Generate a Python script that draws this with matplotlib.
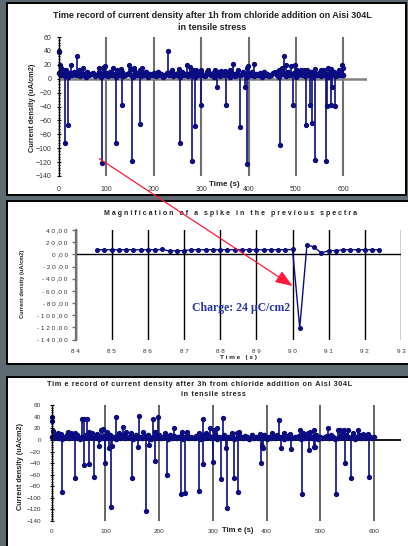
import numpy as np
import matplotlib
matplotlib.use("Agg")
import matplotlib.pyplot as plt
from matplotlib.patches import Rectangle, ConnectionPatch, ArrowStyle
from matplotlib.ticker import MultipleLocator

plt.rcParams['font.family'] = ['Liberation Sans', 'DejaVu Sans']

# ---------------- data ----------------
# Panel 1 (after 1h): baseline samples every 4 s, 0..600 s
p1_step = 4
p1_base = [8,5,9,4,7,3,8,6,9,5,7,4,8,6,3,9,5,7,8,4,
           6,9,3,7,5,8,4,9,6,7,3,8,5,9,4,6,7,8,5,3,
           9,6,7,4,8,5,9,3,7,6,8,4,9,5,7,3,6,8,5,9,
           4,7,6,8,3,9,5,7,4,8,6,9,3,7,5,8,6,4,9,7,
           5,8,3,6,9,4,7,5,8,6,3,9,7,4,8,5,6,9,7,3,
           8,5,9,4,7,6,8,3,9,5,7,4,6,8,9,5,3,7,8,6,
           4,9,5,7,8,3,6,9,5,7,4,8,6,9,3,7,5,8,4,9,
           6,7,3,8,5,9,4,7,6,8,5]
p1_spike_t = [13, 18, 91, 121, 133, 155, 171, 255, 281, 288, 300, 334, 352, 381, 392, 396,
              467, 493, 521, 529, 533, 541, 564, 566, 575, 577, 582,
              0, 1, 2, 4, 10, 15, 26, 37, 43, 51, 85, 92, 95, 97, 115, 122, 130, 147, 152,
              158, 170, 175, 231, 238, 253, 270, 276, 282, 290, 300, 315, 330, 342, 350, 360,
              367, 377, 397, 399, 411, 465, 471, 474, 479, 489, 497, 502, 510, 518, 524, 540,
              553, 560, 568, 574, 590, 598, 600]
p1_spike_v = [-92, -67, -122, -93, -38, -118, -65, -93, -118, -68, -38, -12, -38, -69, -12, -123,
              -96, -38, -66, -38, -64, -117, -118, -39, -38, -12, -39,
              40, 38, 20, 15, 12, 12, 19, 33, 12, 15, 16, 15, 17, 18, 16, 12, 14, 20, 14,
              15, 13, 16, 40, 13, 14, 19, 17, 13, 13, 12, 12, 12, 11, 11, 12,
              21, 12, 15, 18, 21, 13, 15, 33, 20, 18, 20, 13, 12, 12, 13, 14,
              12, 13, 15, 14, 13, 20, 15]

# Panel 2 (magnification of the spike near 90 s)
p2_t0, p2_dt = 84.6, 0.2
p2_v = [7.5, 7.5, 7.5, 7.5, 7.5, 7.5, 7.5, 7.5, 7.5, 8.0,
        5.5, 6.0, 6.0, 7.5, 7.5, 7.5, 7.5, 7.5, 7.5, 7.5,
        7.5, 7.5, 7.5, 7.5, 7.5, 7.5, 7.5, 8.0, -121.0, 16.0,
        11.7, 2.2, 6.0, 6.2, 7.5, 7.5, 7.5, 7.5, 7.5, 7.5]

# Panel 3 (after 3h)
p3_step = 4
p3_base = [6,3,8,4,7,2,6,8,3,5,7,4,8,2,6,5,8,3,7,4,
           5,8,2,6,4,7,3,8,5,6,2,7,4,8,3,6,5,7,2,8,
           4,6,3,7,5,8,2,6,4,7,8,3,5,6,2,8,4,7,3,5,
           7,2,6,8,4,5,3,7,6,2,8,4,5,7,3,6,8,2,5,4,
           8,3,6,5,7,2,4,8,6,3,7,5,2,8,4,6,3,7,5,8,
           2,6,4,7,3,8,5,6,2,7,4,8,3,5,6,7,2,8,4,6,
           5,3,7,8,2,6,4,5,7,3,8,6,2,4,7,5,3,8,6,4,
           7,2,5,8,3,6,4,7,5,3,6]
p3_spike_t = [19, 43, 61, 69, 78, 88, 100, 107, 110, 113, 150, 160, 176, 182, 192, 214, 241,
              248, 275, 281, 300, 315, 324, 327, 340, 346, 389, 392, 394, 427, 446, 466, 479,
              488, 491, 530, 546, 557, 591,
              0, 1, 2, 12, 18, 30, 35, 44, 57, 60, 66, 70, 75, 85, 91, 95, 103, 120, 126,
              133, 138, 148, 162, 170, 188, 192, 198, 210, 228, 243, 252, 274, 282, 288,
              294, 302, 307, 318, 336, 344, 349, 388, 410, 423, 432, 444, 462, 468, 478,
              481, 488, 514, 533, 537, 541, 545, 551, 560, 571, 580, 589]
p3_spike_v = [-90, -66, -43, -41, -64, -11, -40, -14, -115, -11, -66, -12, -122, -9, -36, -61, -94,
              -92, -89, -41, -38, -67, -13, -118, -66, -90, -39, -10, -13, -14, -15, -93, -18,
              -12, -12, -93, -40, -66, -64,
              39, 33, 16, 12, 10, 14, 12, 12, 37, 37, 36, 13, 12, 11, 18, 19, 14, 39, 12,
              22, 14, 12, 41, 14, 37, 14, 39, 12, 20, 13, 13, 12, 36, 12,
              21, 18, 20, 38, 12, 12, 14, 10, 12, 35, 12, 11, 17, 12, 12,
              14, 17, 20, 18, 18, 16, 17, 17, 12, 18, 10, 10]

time_ticks = [0, 100, 200, 300, 400, 500, 600]
y_ticks_main = [60, 40, 20, 0, -20, -40, -60, -80, -100, -120, -140]
p2_xticks = [84, 85, 86, 87, 88, 89, 90, 91, 92, 93]
p2_yticks = [40, 20, 0, -20, -40, -60, -80, -100, -120, -140]

# ---------------- figure ----------------
W, H = 408, 546
BG = '#5f6b72'
NAVY = '#0c0c82'
TXT = '#222222'
HS = '\u200a'  # hair space for letter-spaced titles
fig = plt.figure(figsize=(W / 100, H / 100), dpi=100)
fig.patch.set_facecolor(BG)

def box(x0, y0, x1, y1):
    fig.add_artist(Rectangle((x0 / W, 1 - y1 / H), (x1 - x0) / W, (y1 - y0) / H,
                             transform=fig.transFigure, facecolor='white',
                             edgecolor='black', lw=1.4, zorder=-5))

box(7, 3, 406, 195)
box(7, 201, 412, 364)
box(7, 377, 412, 552)

def axes_px(l, t, r, b):
    return fig.add_axes([l / W, 1 - b / H, (r - l) / W, (b - t) / H])

def spaced(s, sep=HS):
    return sep.join(s)

# ---------- Panel 1 ----------
ax1 = axes_px(59, 37, 367, 176)
ax1.set_facecolor('none')
t1 = np.arange(len(p1_base)) * p1_step
ax1.plot(t1, p1_base, '-o', color=NAVY, lw=1.9, ms=3.0, zorder=3, clip_on=False)
sl = ax1.stem(p1_spike_t, p1_spike_v, bottom=6, basefmt=' ')
sl.markerline.set(color=NAVY, marker='o', markersize=2.8, zorder=4, clip_on=False)
sl.stemlines.set(color=NAVY, lw=1.2, zorder=4)
ax1.set_xlim(0, 650)
ax1.set_ylim(-140, 60)
ax1.axhline(0, color='#808080', lw=1.8, zorder=2)
for s in ['top', 'right', 'bottom']:
    ax1.spines[s].set_visible(False)
ax1.spines['left'].set(color='black', lw=1.0, zorder=5)
ax1.set_xticks(time_ticks)
ax1.xaxis.grid(True, color='#6e6e6e', lw=1.5)
ax1.set_axisbelow(True)
ax1.tick_params(axis='x', length=0, pad=7, labelsize=5, labelcolor='#333333')
ax1.set_yticks(y_ticks_main)
ax1.yaxis.set_minor_locator(MultipleLocator(4))
ax1.tick_params(axis='y', which='major', direction='inout', length=3.5, width=0.8,
                pad=3.5, labelsize=5, labelcolor='#333333')
ax1.tick_params(axis='y', which='minor', direction='inout', length=2.0, width=0.6)
fig.text(212 / W, 1 - 15 / H,
         'Time record of current density after 1h from chloride addition on Aisi 304L',
         ha='center', va='center', fontsize=6.5, weight='bold', color=TXT)
fig.text(212 / W, 1 - 28 / H, 'in tensile stress', ha='center', va='center',
         fontsize=6.5, weight='bold', color=TXT)
fig.text(32 / W, 1 - 108 / H, 'Current density (uA/cm2)', rotation=90,
         ha='center', va='center', fontsize=5.3, weight='bold', color=TXT)
fig.text(224 / W, 1 - 184 / H, 'Time (s)', ha='center', va='center',
         fontsize=5.8, weight='bold', color=TXT)

# ---------- Panel 2 ----------
ax2 = axes_px(75.5, 230, 401, 339.5)
ax2.set_facecolor('none')
t2 = p2_t0 + np.arange(len(p2_v)) * p2_dt
ax2.plot(t2, p2_v, '-o', color=NAVY, lw=1.0, ms=2.6, zorder=3)
ax2.set_xlim(84, 93)
ax2.set_ylim(-140, 40)
ax2.axhline(0, color='black', lw=1.0, zorder=2)
for s in ['top', 'right', 'bottom']:
    ax2.spines[s].set_visible(False)
ax2.spines['left'].set(color='#707070', lw=1.6)
ax2.set_xticks(p2_xticks)
ax2.set_xticklabels([' '.join(str(v)) for v in p2_xticks])
ax2.xaxis.grid(True, color='black', lw=1.0)
ax2.set_axisbelow(True)
ax2.tick_params(axis='x', length=0, pad=6.5, labelsize=4.6, labelcolor='#333333')
ax2.set_yticks(p2_yticks)
ax2.set_yticklabels([' '.join(f'{v:.2f}'.replace('.', ',')).replace(' , ', ' ,')
                     for v in p2_yticks])
ax2.tick_params(axis='y', direction='out', length=3, width=1.0, color='#707070',
                pad=2.5, labelsize=4.6, labelcolor='#333333')
fig.text(231 / W, 1 - 214 / H,
         '   '.join(' '.join(w) for w in 'Magnification of a spike in the previous spectra'.split()),
         ha='center', va='center', fontsize=5.0, weight='bold', color=TXT)
fig.text(23 / W, 1 - 284 / H, 'Current density (uA/cm2)', rotation=90,
         ha='center', va='center', fontsize=4.1, weight='bold', color=TXT)
fig.text(238 / W, 1 - 357 / H, 'T i m e   ( s )', ha='center', va='center',
         fontsize=4.6, weight='bold', color=TXT)
ax2.text(89.93, -89, 'Charge: 24 \u00b5C/cm2', ha='right', va='center',
         family=['Liberation Serif', 'DejaVu Serif'], weight='bold', fontsize=8.5,
         color='#27379e', zorder=6)

# ---------- Panel 3 ----------
ax3 = axes_px(51.7, 405.3, 400.9, 521)
ax3.set_facecolor('none')
t3 = np.arange(len(p3_base)) * p3_step
ax3.plot(t3, p3_base, '-o', color=NAVY, lw=1.9, ms=3.0, zorder=3, clip_on=False)
sl3 = ax3.stem(p3_spike_t, p3_spike_v, bottom=5, basefmt=' ')
sl3.markerline.set(color=NAVY, marker='o', markersize=2.8, zorder=4, clip_on=False)
sl3.stemlines.set(color=NAVY, lw=1.2, zorder=4)
ax3.set_xlim(0, 650)
ax3.set_ylim(-140, 60)
ax3.axhline(0, color='black', lw=1.3, zorder=2)
for s in ['top', 'right', 'bottom']:
    ax3.spines[s].set_visible(False)
ax3.spines['left'].set(color='black', lw=1.0, zorder=5)
ax3.set_xticks(time_ticks)
ax3.xaxis.grid(True, color='#3a3a3a', lw=1.1)
ax3.set_axisbelow(True)
ax3.tick_params(axis='x', length=0, pad=6, labelsize=4.6, labelcolor='#333333')
ax3.set_yticks(y_ticks_main)
ax3.yaxis.set_minor_locator(MultipleLocator(4))
ax3.tick_params(axis='y', which='major', direction='inout', length=3.5, width=0.8,
                pad=6, labelsize=4.6, labelcolor='#333333')
ax3.tick_params(axis='y', which='minor', direction='inout', length=2.0, width=0.6)
fig.text(200 / W, 1 - 385 / H,
         spaced('Tim e record of current density after 3h from chloride addition on Aisi 304L'),
         ha='center', va='center', fontsize=5.25, weight='bold', color=TXT)
fig.text(213 / W, 1 - 394.5 / H, spaced('in tensile stress'), ha='center', va='center',
         fontsize=5.25, weight='bold', color=TXT)
fig.text(21 / W, 1 - 467 / H, 'Current density (uA/cm2)', rotation=90,
         ha='center', va='center', fontsize=5.2, weight='bold', color=TXT)
fig.text(238 / W, 1 - 530.5 / H, 'Tim e (s)', ha='center', va='center',
         fontsize=5.6, weight='bold', color=TXT)

# ---------- red arrow from spike in panel 1 to its magnification ----------
con = ConnectionPatch(xyA=(85, -115), coordsA=ax1.transData,
                      xyB=(90, -52), coordsB=ax2.transData,
                      arrowstyle=ArrowStyle('-|>', head_length=1.3, head_width=0.5),
                      mutation_scale=8, color='#ff1a3c', lw=0.9,
                      shrinkA=0, shrinkB=0, zorder=10)
fig.add_artist(con)

fig.savefig('out.png', dpi=100, facecolor=BG)
